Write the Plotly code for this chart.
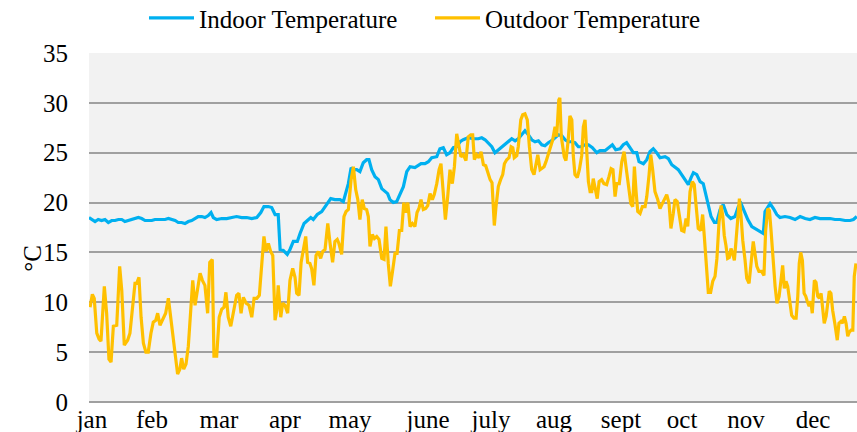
import plotly.graph_objects as go

# Day-of-year positions and temperatures (°C)
indoor_day = [0.0, 1.3, 2.9, 4.4, 6.0, 7.6, 9.2, 10.8, 12.4, 14.0, 15.6, 17.1, 18.7, 20.3, 21.9, 23.5,
              25.1, 26.7, 28.2, 29.9, 31.4, 33.0, 34.6, 36.2, 37.8, 39.4, 41.0, 42.5, 44.1, 45.7, 47.3,
              48.9, 50.5, 52.0, 53.7, 55.2, 56.8, 58.1, 59.2, 60.8, 63.2, 65.6, 68.0, 70.3, 72.7, 75.1,
              77.5, 79.9, 81.8, 83.3, 85.4, 87.0, 88.6, 90.1, 91.0, 92.5, 94.4, 95.7, 97.3, 99.2, 100.5,
              102.4, 104.0, 105.6, 106.8, 108.7, 110.8, 112.4, 114.0, 115.1, 117.1, 119.5, 121.1, 122.2,
              123.5, 124.8, 125.9, 127.5, 129.0, 130.6, 132.2, 133.3, 134.6, 136.2, 137.8, 139.4, 141.0,
              142.2, 143.3, 144.9, 146.5, 148.1, 149.7, 151.3, 152.9, 155.2, 156.8, 158.1, 160.0, 161.6,
              163.2, 165.6, 167.1, 168.7, 170.3, 171.9, 173.5, 175.1, 176.7, 178.2, 180.6, 183.0, 185.4,
              187.0, 188.6, 190.1, 191.8, 193.3, 194.9, 196.5, 198.1, 199.7, 201.3, 202.9, 204.4, 206.0,
              207.6, 209.2, 210.8, 212.4, 214.0, 215.6, 217.1, 218.7, 220.3, 221.9, 223.5, 225.1, 226.7,
              228.2, 229.9, 231.4, 233.0, 234.6, 236.2, 237.8, 239.7, 241.8, 243.3, 245.7, 247.6, 249.2,
              250.8, 252.9, 254.4, 256.0, 257.6, 259.2, 260.8, 261.9, 264.0, 265.6, 267.1, 268.7, 270.3,
              271.9, 274.3, 275.9, 277.5, 279.0, 280.6, 282.2, 283.8, 285.4, 286.7, 287.8, 289.4, 291.0,
              292.5, 293.7, 294.9, 296.2, 297.8, 298.9, 300.5, 302.0, 303.7, 305.6, 307.6, 309.2, 310.5,
              312.0, 313.7, 315.6, 317.1, 318.7, 321.1, 321.9, 323.2, 324.3, 325.9, 327.5, 329.0, 331.4,
              333.8, 336.2, 338.6, 341.0, 343.3, 345.7, 348.1, 350.5, 352.9, 355.2, 357.6, 360.0, 362.4,
              364.0, 365.6]
indoor_temp = [18.5, 18.3, 18.1, 18.3, 18.2, 18.3, 18.0, 18.2, 18.2, 18.3, 18.3, 18.1, 18.2, 18.3, 18.4, 18.5,
               18.4, 18.2, 18.2, 18.2, 18.3, 18.3, 18.3, 18.3, 18.4, 18.3, 18.2, 18.0, 18.0, 17.9, 18.1,
               18.2, 18.4, 18.6, 18.6, 18.5, 18.7, 19.0, 18.5, 18.3, 18.4, 18.4, 18.5, 18.6, 18.5, 18.5,
               18.4, 18.5, 19.0, 19.6, 19.6, 19.5, 18.8, 18.8, 15.3, 15.2, 14.8, 15.3, 16.1, 16.1, 16.9,
               17.9, 18.2, 18.5, 18.3, 18.8, 19.1, 19.6, 20.2, 20.4, 20.3, 20.3, 20.1, 20.9,
               21.9, 23.5, 23.3, 23.3, 23.1, 24.0, 24.3, 24.3, 23.3, 22.6, 22.3, 21.4, 21.1,
               20.9, 20.3, 20.0, 20.1, 20.9, 21.6, 23.1, 23.6, 23.5, 23.7, 23.9, 23.9, 24.1,
               24.5, 24.6, 25.4, 25.5, 24.8, 25.0, 25.5, 25.6, 26.1, 26.3, 26.5, 26.4, 26.4,
               26.5, 26.3, 26.0, 25.6, 25.0, 25.3, 25.6, 25.9, 26.2, 26.4, 26.2, 26.4, 26.8,
               27.2, 26.8, 26.3, 26.1, 26.2, 25.8, 25.7, 26.0, 26.2, 26.5, 26.8, 26.7, 26.3,
               26.1, 26.1, 26.0, 25.6, 25.6, 25.8, 25.8, 25.5, 25.0, 25.2, 25.2, 25.5, 25.8,
               25.3, 25.4, 25.8, 26.0, 25.5, 25.0, 25.0, 24.1, 23.9, 24.3, 25.1, 25.4, 25.0,
               24.5, 24.6, 24.4, 23.8, 23.6, 23.3, 22.8, 22.3, 21.8, 22.5, 23.0, 22.8, 22.1,
               21.9, 20.9, 19.6, 18.6, 18.0, 18.0, 19.3, 19.8, 18.8, 18.4, 18.6, 19.6, 19.9,
               19.1, 18.3, 17.6, 17.4, 17.2, 16.9, 19.1, 19.6, 19.9, 19.4, 18.8, 18.5, 18.6,
               18.5, 18.3, 18.6, 18.4, 18.3, 18.5, 18.4, 18.4, 18.4, 18.3, 18.3, 18.2, 18.2,
               18.3, 18.6]

outdoor_day = [0.5, 1.6, 2.5, 3.7, 4.8, 5.7, 7.3, 8.4, 9.5, 10.5, 11.6, 13.2, 14.6, 15.6, 16.8, 18.4,
               19.5, 20.8, 21.9, 22.7, 23.8, 24.8, 25.9, 27.1, 28.2, 29.5, 30.6, 31.8, 32.7, 33.8, 35.4,
               36.5, 37.8, 39.0, 40.1, 41.3, 42.2, 43.3, 44.1, 45.1, 46.2, 47.3, 48.6, 49.4, 50.5, 51.8,
               52.9, 54.0, 55.2, 56.5, 57.5, 58.7, 59.5, 60.8, 62.0, 63.2, 64.3, 65.2, 66.3, 67.5, 68.7,
               70.3, 71.4, 72.4, 73.5, 74.8, 76.2, 77.5, 78.6, 79.9, 81.1, 82.2, 83.3, 84.3, 85.4, 86.5,
               87.5, 88.6, 89.4, 90.1, 91.3, 92.2, 93.3, 94.6, 95.7, 97.0, 98.1, 98.9, 100.0, 101.0,
               102.0, 103.2, 104.1, 105.2, 106.0, 107.1, 108.1, 109.2, 110.3, 111.3, 112.4, 113.7,
               114.8, 116.0, 117.1, 118.2, 119.0, 120.3, 121.4, 122.4, 123.5, 124.8, 125.9, 127.0,
               128.0, 129.0, 130.1, 131.1, 132.2, 133.0, 133.8, 134.9, 135.9, 137.0, 138.1, 139.4,
               140.5, 141.4, 142.5, 143.5, 144.6, 145.7, 146.7, 147.8, 148.9, 149.9, 151.0, 151.8,
               152.9, 154.0, 155.2, 156.2, 157.1, 158.1, 159.2, 160.3, 161.3, 162.4, 163.5, 164.4,
               165.6, 166.7, 167.6, 168.7, 169.7, 170.8, 171.9, 173.0, 174.0, 175.1, 176.2, 177.1,
               178.2, 179.5, 180.6, 181.8, 182.7, 183.5, 184.6, 185.7, 186.7, 187.8, 188.9, 189.9,
               191.0, 191.9, 193.0, 193.8, 194.9, 196.0, 197.0, 197.8, 198.9, 200.0, 201.0, 201.8,
               202.5, 203.7, 204.4, 205.6, 206.5, 207.6, 208.7, 209.7, 210.8, 211.9, 212.9, 213.7,
               214.8, 215.7, 216.7, 217.6, 218.7, 219.9, 220.8, 221.9, 222.7, 223.7, 224.2, 224.9,
               225.6, 226.3, 227.1, 228.2, 229.0, 229.9, 230.6, 231.4, 232.5, 233.5, 234.6, 235.4,
               236.2, 237.0, 237.8, 238.6, 239.4, 240.1, 241.0, 242.0, 242.9, 244.1, 245.2, 246.5,
               247.6, 248.6, 249.5, 250.5, 251.3, 252.5, 253.7, 254.8, 255.7, 256.8, 258.0, 258.9,
               259.7, 260.5, 261.3, 262.4, 263.5, 264.8, 265.6, 266.7, 267.5, 268.4, 269.5, 270.8,
               271.9, 273.0, 274.0, 275.1, 276.2, 277.1, 278.2, 279.0, 280.1, 281.1, 282.2, 283.3,
               284.3, 285.1, 286.2, 287.3, 288.2, 289.0, 290.1, 291.3, 292.2, 293.0, 293.8, 294.9,
               296.0, 297.0, 298.1, 299.0, 300.0, 301.0, 301.8, 302.5, 303.3, 304.1, 304.9, 305.7,
               306.5, 307.3, 308.1, 308.9, 309.7, 310.5, 311.3, 312.4, 313.2, 314.3, 315.2, 316.3,
               317.1, 318.0, 319.0, 320.3, 321.4, 322.2, 323.2, 324.0, 324.8, 325.6, 326.7, 327.6,
               328.6, 329.5, 330.3, 331.1, 331.9, 332.7, 333.7, 334.6, 335.7, 336.7, 337.5, 338.2,
               338.9, 339.7, 340.5, 341.3, 342.0, 342.9, 343.7, 344.4, 345.4, 346.2, 347.0, 347.8,
               348.6, 349.4, 350.1, 351.0, 351.8, 352.5, 353.3, 354.1, 355.2, 356.3, 357.1, 358.1,
               358.9, 359.7, 360.5, 361.3, 362.0, 362.9, 363.7, 364.4, 365.2]
outdoor_temp = [9.5, 10.8, 10.4, 6.9, 6.3, 6.1, 11.6, 8.9, 4.3, 4.0, 7.6, 7.7, 13.6, 11.2, 5.7, 6.2,
                6.9, 9.5, 11.9, 11.9, 12.5, 8.5, 5.9, 5.0, 5.0, 6.9, 8.0, 8.2, 8.9, 7.7, 8.5,
                8.9, 10.4, 8.2, 6.5, 4.3, 2.8, 3.3, 4.4, 3.3, 3.8, 5.6, 9.5, 12.2, 9.7, 11.6,
                12.9, 12.2, 11.7, 8.9, 14.0, 14.3, 4.6, 4.6, 8.5, 9.3, 9.5, 11.0, 8.5, 7.6, 9.1,
                10.7, 10.9, 8.9, 10.5, 9.9, 9.7, 8.5, 10.4, 10.4, 10.7, 13.3, 16.6, 15.1, 15.9, 15.1,
                14.7, 8.2, 9.2, 11.7, 8.5, 9.9, 9.7, 8.9, 12.2, 13.4, 12.5, 10.9, 10.7, 14.0,
                15.1, 16.6, 14.0, 13.9, 13.4, 11.7, 14.7, 15.1, 14.4, 15.1, 15.3, 17.9,
                15.9, 14.0, 16.1, 16.3, 15.9, 14.8, 18.6, 19.1, 19.3, 22.3, 23.6, 21.3,
                20.3, 18.3, 20.3, 19.4, 19.3, 18.6, 15.6, 16.8, 16.4, 16.6, 16.3, 14.4,
                14.3, 17.6, 13.9, 11.6, 13.2, 14.9, 14.9, 17.2, 17.2, 20.0, 19.0, 20.0,
                17.6, 17.9, 17.6, 19.0, 19.4, 20.3, 19.3, 19.4, 19.7, 20.9, 20.3, 20.8,
                21.9, 23.3, 23.9, 20.9, 18.3, 20.6, 23.3, 21.9, 23.6, 26.9, 25.6, 24.6,
                24.8, 24.2, 26.6, 26.8, 26.8, 24.3, 24.8, 24.5, 25.1, 23.8, 23.7, 23.0,
                22.3, 22.0, 17.7, 19.6, 21.6, 22.3, 22.8, 23.9, 24.3, 24.5, 25.6, 25.5,
                24.5, 24.7, 25.6, 28.3, 28.8, 28.9, 28.3, 25.6, 23.3, 22.8, 23.9, 24.8,
                23.3, 23.4, 23.6, 24.1, 24.8, 25.5, 26.3, 27.6, 26.6, 30.3, 30.5, 26.6,
                25.8, 24.6, 24.2, 26.3, 28.7, 28.3, 24.7, 22.8, 22.5, 23.3, 24.7, 27.6,
                28.3, 25.3, 22.1, 21.1, 21.1, 22.4, 21.4, 20.4, 22.1, 22.3, 21.9, 21.8,
                22.6, 23.4, 23.3, 20.6, 21.9, 21.9, 24.1, 25.1, 23.6, 21.9, 19.9, 19.6,
                23.6, 21.1, 19.1, 18.9, 19.6, 19.6, 20.6, 22.8, 24.8, 23.3, 21.1, 20.3,
                19.4, 19.9, 20.4, 20.8, 19.9, 17.4, 18.9, 20.3, 20.1, 18.6, 17.2, 17.1,
                18.4, 17.6, 21.1, 22.1, 21.8, 19.9, 17.4, 17.2, 18.8, 16.6, 14.2, 11.0,
                11.0, 12.1, 12.6, 14.4, 18.0, 19.7, 18.6, 16.7, 15.7, 14.4, 14.5, 15.4,
                14.9, 14.2, 16.2, 18.9, 20.4, 18.6, 16.2, 14.2, 12.4, 11.9, 14.1, 16.1,
                14.9, 13.6, 13.1, 13.1, 12.7, 17.2, 19.4, 19.2, 17.1, 14.4, 11.6, 9.9,
                10.6, 12.2, 13.7, 11.4, 12.1, 11.6, 10.1, 8.7, 8.4, 8.4, 10.6, 13.9,
                15.0, 14.2, 10.9, 10.6, 10.1, 9.6, 10.1, 8.9, 12.2, 12.0, 10.6, 10.4,
                10.9, 9.6, 7.9, 8.6, 10.2, 11.1, 10.9, 9.2, 7.8, 6.2, 7.9, 8.1,
                7.9, 8.6, 7.9, 6.6, 7.0, 7.2, 7.2, 12.6, 13.9]

month_labels = ["jan", "feb", "mar", "apr", "may", "june", "july", "aug", "sept", "oct", "nov", "dec"]
month_label_day = [1.4, 30.0, 61.9, 93.3, 124.3, 161.4, 191.4, 221.4, 253.3, 282.4, 312.9, 344.8]

y_ticks = [0, 5, 10, 15, 20, 25, 30, 35]

FONT = "Liberation Serif"
BLUE = "#00B0F0"
GOLD = "#FFC000"
GRID = "#A0A0A0"

fig = go.Figure()
fig.add_trace(go.Scatter(x=indoor_day, y=indoor_temp, mode="lines", name="Indoor Temperature",
                         line=dict(color=BLUE, width=3.2)))
fig.add_trace(go.Scatter(x=outdoor_day, y=outdoor_temp, mode="lines", name="Outdoor Temperature",
                         line=dict(color=GOLD, width=3.2)))

fig.update_layout(
    width=857, height=432,
    margin=dict(l=89, r=0, t=53, b=30, pad=0, autoexpand=False),
    paper_bgcolor="white",
    plot_bgcolor="#F2F2F2",
    font=dict(family=FONT, size=25, color="black"),
    showlegend=True,
    legend=dict(orientation="h", x=0.0716, xanchor="left", y=1.1, yanchor="middle",
                font=dict(family=FONT, size=25), itemwidth=45, entrywidth=226,
                bgcolor="rgba(0,0,0,0)", tracegroupgap=0),
    xaxis=dict(range=[0, 365.7], tickmode="array", tickvals=month_label_day, ticktext=month_labels,
               showgrid=False, zeroline=False, showline=False, ticks="", ticklen=0,
               tickfont=dict(family=FONT, size=25), fixedrange=True, automargin=False),
    yaxis=dict(range=[0, 35], tickmode="array", tickvals=y_ticks, showgrid=True, gridcolor=GRID,
               gridwidth=1.5, zeroline=True, zerolinecolor=GRID, zerolinewidth=1.5, showline=False,
               ticks="", ticklabelstandoff=20, tickfont=dict(family=FONT, size=25), fixedrange=True,
               automargin=False),
    annotations=[dict(text="°C", xref="paper", yref="paper", x=-0.073, y=0.413, showarrow=False,
                      textangle=-90, font=dict(family=FONT, size=25), xanchor="center", yanchor="middle")],
)

# Remove the default page margin so the 857x432 figure fills the window exactly.
fig.write_html("out.html", config={"displayModeBar": False},
               post_script="document.body.style.margin='0';document.body.style.overflow='hidden';")
